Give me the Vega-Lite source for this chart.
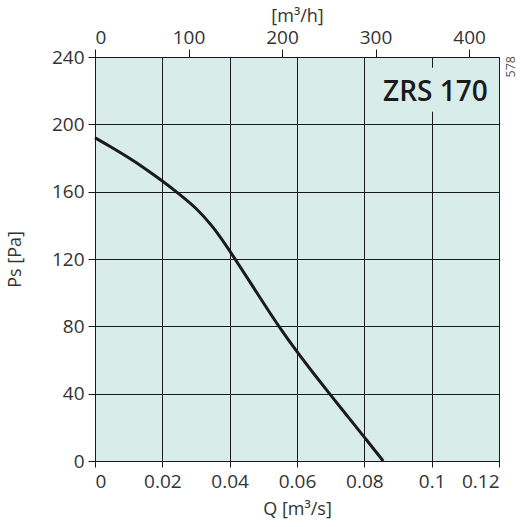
{
  "$schema": "https://vega.github.io/schema/vega-lite/v6.json",
  "width": 404,
  "height": 404,
  "autosize": "none",
  "padding": {"left": 95, "top": 57, "right": 26, "bottom": 66},
  "background": "white",
  "view": {"fill": "#d8edea", "stroke": "#1a1a1a", "strokeWidth": 1},
  "config": {
    "font": "Open Sans",
    "axis": {
      "labelFont": "Open Sans",
      "labelFontSize": 19,
      "labelColor": "#333333",
      "titleFont": "Open Sans",
      "titleFontSize": 18,
      "titleFontWeight": "normal",
      "titleColor": "#333333",
      "domainColor": "#1a1a1a",
      "tickColor": "#1a1a1a",
      "gridColor": "#1a1a1a",
      "gridOpacity": 1,
      "gridWidth": 1,
      "domainWidth": 1,
      "tickWidth": 1
    }
  },
  "datasets": {
    "curve": [
      {"Q": 0.0, "Ps": 192.0},
      {"Q": 0.005, "Ps": 186.3},
      {"Q": 0.01, "Ps": 180.2},
      {"Q": 0.015, "Ps": 173.6},
      {"Q": 0.02, "Ps": 166.4},
      {"Q": 0.025, "Ps": 158.6},
      {"Q": 0.03, "Ps": 150.5},
      {"Q": 0.035, "Ps": 139.5},
      {"Q": 0.04, "Ps": 125.0},
      {"Q": 0.045, "Ps": 109.5},
      {"Q": 0.05, "Ps": 94.0},
      {"Q": 0.055, "Ps": 78.7},
      {"Q": 0.06, "Ps": 64.8},
      {"Q": 0.065, "Ps": 51.8},
      {"Q": 0.07, "Ps": 39.1},
      {"Q": 0.075, "Ps": 26.6},
      {"Q": 0.08, "Ps": 14.2},
      {"Q": 0.0856, "Ps": 0.0}
    ],
    "box": [{"x1": 0.085, "x2": 0.1195, "y1": 207.5, "y2": 233.6}],
    "label": [{"Q": 0.1011, "Ps": 213.6, "text": "ZRS 170"}],
    "code": [{"Q": 0.1237, "Ps": 234.2, "text": "578"}],
    "flow": [{"qh": 0}, {"qh": 432}]
  },
  "layer": [
    {
      "data": {"name": "curve"},
      "mark": {"type": "line", "interpolate": "basis", "color": "#1a1a1a", "strokeWidth": 3},
      "encoding": {
        "x": {
          "field": "Q", "type": "quantitative",
          "scale": {"domain": [0, 0.12], "nice": false},
          "axis": {
            "orient": "bottom",
            "values": [0, 0.02, 0.04, 0.06, 0.08, 0.1, 0.12],
            "labelExpr": "format(datum.value, '~g')",
            "title": "Q [m³/s]",
            "tickSize": 6,
            "labelPadding": 5,
            "titlePadding": 9,
            "grid": true
          }
        },
        "y": {
          "field": "Ps", "type": "quantitative",
          "scale": {"domain": [0, 240], "nice": false},
          "axis": {
            "orient": "left",
            "values": [0, 40, 80, 120, 160, 200, 240],
            "title": "Ps [Pa]",
            "tickSize": 7,
            "labelPadding": 4,
            "titlePadding": 27,
            "grid": true
          }
        }
      }
    },
    {
      "data": {"name": "box"},
      "mark": {"type": "rect", "fill": "#d8edea"},
      "encoding": {
        "x": {"field": "x1", "type": "quantitative", "scale": {"domain": [0, 0.12], "nice": false}, "axis": null},
        "x2": {"field": "x2"},
        "y": {"field": "y1", "type": "quantitative"},
        "y2": {"field": "y2"}
      }
    },
    {
      "data": {"name": "label"},
      "mark": {"type": "text", "font": "Open Sans", "fontSize": 28, "fontWeight": 600, "color": "#1a1a1a", "align": "center", "baseline": "alphabetic"},
      "encoding": {
        "x": {"field": "Q", "type": "quantitative", "scale": {"domain": [0, 0.12], "nice": false}, "axis": null},
        "y": {"field": "Ps", "type": "quantitative"},
        "text": {"field": "text"}
      }
    },
    {
      "data": {"name": "code"},
      "mark": {"type": "text", "font": "Open Sans", "fontSize": 12.5, "color": "#555555", "align": "center", "baseline": "middle", "angle": 270},
      "encoding": {
        "x": {"field": "Q", "type": "quantitative", "scale": {"domain": [0, 0.12], "nice": false}, "axis": null},
        "y": {"field": "Ps", "type": "quantitative"},
        "text": {"field": "text"}
      }
    },
    {
      "data": {"name": "flow"},
      "mark": {"type": "point", "opacity": 0},
      "encoding": {
        "x": {
          "field": "qh", "type": "quantitative",
          "scale": {"domain": [0, 432], "nice": false},
          "axis": {
            "orient": "top",
            "values": [0, 100, 200, 300, 400],
            "title": "[m³/h]",
            "tickSize": 8,
            "labelPadding": 2,
            "titlePadding": 3,
            "grid": false,
            "domain": false
          }
        }
      }
    }
  ],
  "resolve": {"scale": {"x": "independent"}, "axis": {"x": "independent"}}
}
